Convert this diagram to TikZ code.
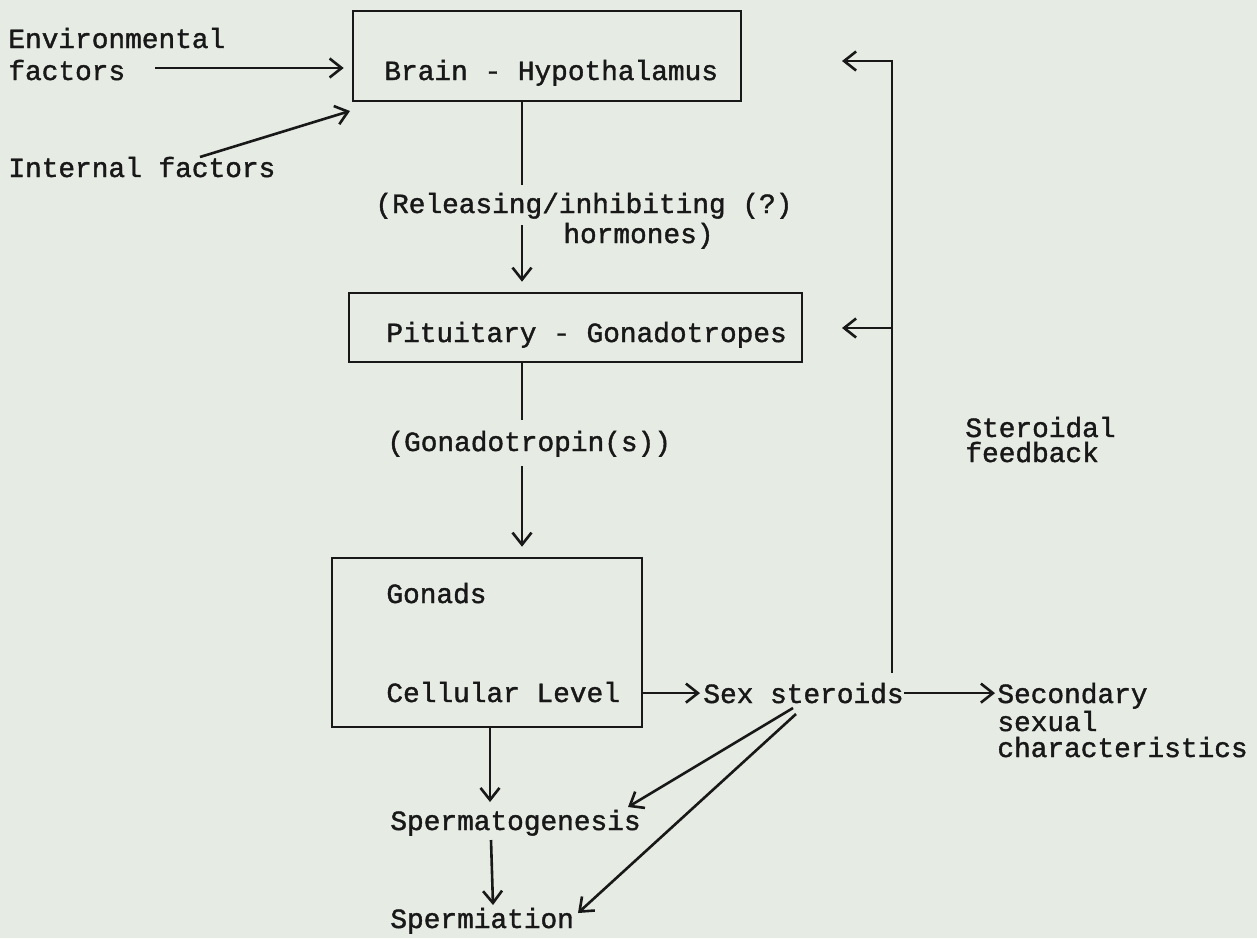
\documentclass[tikz,border=0pt]{standalone}
\usepackage{fontspec}
\newfontfamily\tw{Liberation Mono}[FakeBold=1.4,BoldFont={Liberation Mono}]
\usetikzlibrary{arrows.meta}
\definecolor{bgc}{RGB}{230,235,228}
\definecolor{ink}{RGB}{24,24,24}
\begin{document}
\begin{tikzpicture}[x=0.5pt,y=-0.5pt,
  lbl/.style={font={\tw\bfseries\fontsize{13.9pt}{16pt}\selectfont}, text=ink, inner sep=0pt, anchor=base west},
  boxn/.style={draw=ink, line width=1.3pt, inner sep=0pt},
  conn/.style={draw=ink, line width=1.3pt, line join=miter},
  arr/.style={conn, -{Straight Barb[length=6pt,width=9.5pt,line width=1.3pt]}}]
\fill[bgc] (0,0) rectangle (1257,938);
% text nodes
\node[lbl] (env1) at (8,48) {Environmental};
\node[lbl] (env2) at (8,80) {factors};
\node[lbl] (int) at (8,177) {Internal factors};
\node[boxn,minimum width=194pt,minimum height=45pt] (brain) at (547,56) {};
\node[lbl] (brainT) at (384,80) {Brain - Hypothalamus};
\node[lbl] (rel1) at (375,213) {(Releasing/inhibiting (?)};
\node[lbl] (rel2) at (563,243) {hormones)};
\node[boxn,minimum width=226.5pt,minimum height=34.5pt] (pit) at (575.5,327.5) {};
\node[lbl] (pitT) at (386,342) {Pituitary - Gonadotropes};
\node[lbl] (gtr) at (387,451) {(Gonadotropin(s))};
\node[boxn,minimum width=155pt,minimum height=84.5pt] (gon) at (487,642.5) {};
\node[lbl] (gonT1) at (386,603) {Gonads};
\node[lbl] (gonT2) at (386,702) {Cellular Level};
\node[lbl] (sex) at (703,703) {Sex steroids};
\node[lbl] (sec1) at (997,703) {Secondary};
\node[lbl] (sec2) at (997,731) {sexual};
\node[lbl] (sec3) at (997,757) {characteristics};
\node[lbl] (fb1) at (965,437) {Steroidal};
\node[lbl] (fb2) at (965,462) {feedback};
\node[lbl] (spg) at (390,830) {Spermatogenesis};
\node[lbl] (spm) at (390,928) {Spermiation};
% coordinates
\coordinate (envA) at (155,68);
\coordinate (intA) at (200,157);
\coordinate (intB) at (350,111);
\coordinate (b1) at (522,185);
\coordinate (b2) at (522,225);
\coordinate (p1) at (522,420);
\coordinate (p2) at (522,466);
\coordinate (fbB) at (892,673);
\coordinate (fbT) at (892,61);
\coordinate (fbTt) at (842,61);
\coordinate (fbP) at (892,328);
\coordinate (fbPt) at (842,328);
\coordinate (s1) at (793,708);
\coordinate (s1t) at (628,807);
\coordinate (s2) at (796,714);
\coordinate (s2t) at (578,913);
\coordinate (gd) at (490,802);
\coordinate (sg1) at (491,840);
\coordinate (sg2) at (493,905);
% connectors
\draw[arr, shorten >=4pt] (envA) -- (envA -| brain.west);
\draw[arr] (intA) -- (intB);
\draw[conn] (brain.south -| b1) -- (b1);
\draw[arr, shorten >=5pt] (b2) -- (pit.north -| b2);
\draw[conn] (pit.south -| p1) -- (p1);
\draw[arr, shorten >=5pt] (p2) -- (gon.north -| p2);
\draw[arr, shorten >=1.5pt] (sex.west -| gon.east) -- (sex.west);
\draw[arr, shorten >=1pt] (sex.east) -- (sex.east -| sec1.west);
\draw[arr] (fbB) -- (fbT) -- (fbTt);
\draw[arr] (fbP) -- (fbPt);
\draw[arr] (s1) -- (s1t);
\draw[arr] (s2) -- (s2t);
\draw[arr] (gon.south -| gd) -- (gd);
\draw[arr] (sg1) -- (sg2);
\end{tikzpicture}
\end{document}
